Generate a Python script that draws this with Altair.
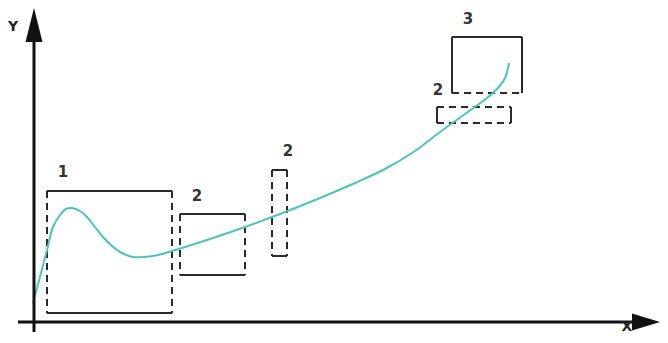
import altair as alt
import pandas as pd

# ---- data (image-space coordinates, y grows downward) ----
curve_x = [33, 40, 47, 53, 60, 66, 72, 80, 87, 95, 103, 112, 120, 133, 153, 172,
           210, 245, 280, 320, 355, 385, 415, 440, 465, 487, 497, 505, 509]
curve_y = [303, 277, 250, 227, 215, 209, 208, 211, 217, 227, 237, 246, 252, 257, 256, 251,
           239, 227, 214, 198, 183, 169, 151, 132, 114, 98, 89, 78, 63]

solid_x1 = [47, 47, 180, 180, 272, 272, 452, 452, 522, 437, 511]
solid_y1 = [191, 313, 214, 275, 170, 256, 37, 37, 37, 107, 107]
solid_x2 = [172, 172, 245, 245, 287, 287, 522, 452, 522, 437, 511]
solid_y2 = [191, 313, 214, 275, 170, 256, 37, 93, 93, 123, 123]

dash_x1 = [47, 172, 180, 245, 272, 287, 452, 437, 437]
dash_y1 = [191, 191, 214, 214, 170, 170, 93, 107, 123]
dash_x2 = [47, 172, 180, 245, 272, 287, 522, 511, 511]
dash_y2 = [313, 313, 275, 275, 256, 256, 93, 107, 123]

axis_x1 = [34, 18]
axis_y1 = [40, 322]
axis_x2 = [34, 634]
axis_y2 = [332, 322]

arrow_x = [34, 646]
arrow_y = [25, 322]

label_text = ["1", "2", "2", "3", "2"]
label_x = [63, 197, 288, 468, 438]
label_y = [172, 196, 151, 19, 90]

axis_label_text = ["Y", "X"]
axis_label_x = [13, 627]
axis_label_y = [27, 327]

W, H = 652, 327
xs = alt.Scale(domain=[8, 8 + W], nice=False, zero=False)
ys = alt.Scale(domain=[8, 8 + H], nice=False, zero=False, reverse=True)

def X(f):
    return alt.X(f, type="quantitative", scale=xs, axis=None)

def Y(f):
    return alt.Y(f, type="quantitative", scale=ys, axis=None)

curve = alt.Chart(pd.DataFrame({"x": curve_x, "y": curve_y, "o": range(len(curve_x))})).mark_line(
    color="#4fc3b8", strokeWidth=2, interpolate="catmull-rom"
).encode(x=X("x"), y=Y("y"), order="o:Q")

solid = alt.Chart(pd.DataFrame({"x": solid_x1, "y": solid_y1, "x2": solid_x2, "y2": solid_y2})).mark_rule(
    color="#2a2a2a", strokeWidth=2
).encode(x=X("x"), y=Y("y"), x2="x2", y2="y2")

dashed = alt.Chart(pd.DataFrame({"x": dash_x1, "y": dash_y1, "x2": dash_x2, "y2": dash_y2})).mark_rule(
    color="#2a2a2a", strokeWidth=2, strokeDash=[7, 5]
).encode(x=X("x"), y=Y("y"), x2="x2", y2="y2")

axes = alt.Chart(pd.DataFrame({"x": axis_x1, "y": axis_y1, "x2": axis_x2, "y2": axis_y2})).mark_rule(
    color="#111111", strokeWidth=3
).encode(x=X("x"), y=Y("y"), x2="x2", y2="y2")

arrow_up = alt.Chart(pd.DataFrame({"x": arrow_x[:1], "y": arrow_y[:1]})).mark_point(
    shape="M0,-1L0.5,1L-0.5,1Z", size=1156, filled=True, color="#111111", opacity=1
).encode(x=X("x"), y=Y("y"))

arrow_right = alt.Chart(pd.DataFrame({"x": arrow_x[1:], "y": arrow_y[1:]})).mark_point(
    shape="M1,0L-1,-0.6L-1,0.6Z", size=784, filled=True, color="#111111", opacity=1
).encode(x=X("x"), y=Y("y"))

labels = alt.Chart(pd.DataFrame({"t": label_text, "x": label_x, "y": label_y})).mark_text(
    font="DejaVu Sans", fontWeight="bold", fontSize=15, color="#333333", baseline="middle", align="center"
).encode(x=X("x"), y=Y("y"), text="t:N")

axis_labels = alt.Chart(pd.DataFrame({"t": axis_label_text, "x": axis_label_x, "y": axis_label_y})).mark_text(
    font="DejaVu Sans", fontWeight="bold", fontSize=14, color="#222222", baseline="middle", align="center"
).encode(x=X("x"), y=Y("y"), text="t:N")

chart = alt.layer(dashed, solid, curve, axes, arrow_up, arrow_right, labels, axis_labels).properties(
    width=W, height=H, padding=0, autosize=alt.AutoSizeParams(type="none")
).configure_view(stroke="transparent", strokeWidth=0)

chart.save("out.html", embed_options={"renderer": "svg", "actions": False})
